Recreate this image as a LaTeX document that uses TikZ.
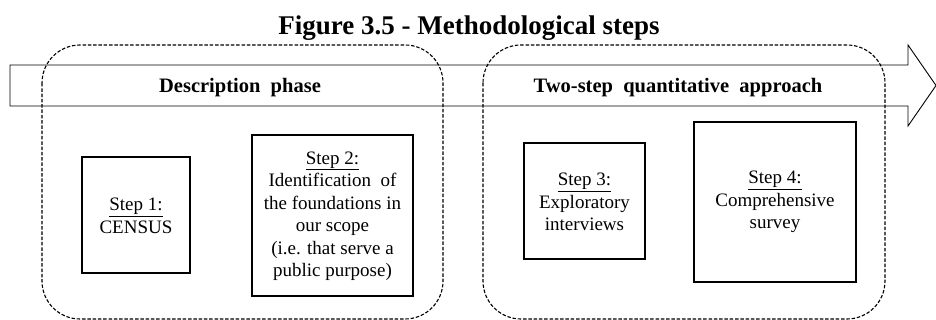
\documentclass[tikz,border=0pt]{standalone}
\usepackage{fontspec}
\setmainfont{Liberation Serif}
\begin{document}
\begin{tikzpicture}[x=1pt,y=-1pt,
  phase/.style={draw=black,line width=1.1pt,dash pattern=on 3.5pt off 1.8pt,rounded corners=38pt},
  stepbox/.style={draw=black,line width=1.8pt},
  steptext/.style={align=center,font=\fontsize{19}{22.5}\selectfont},
  phasetitle/.style={anchor=base,font=\fontsize{20.5}{24}\selectfont\bfseries},
]
\useasboundingbox (0,0) rectangle (936,320);

% title
\node[anchor=base,font=\fontsize{27}{30}\selectfont\bfseries] (title) at (469,35)
  {Figure 3.5 - Methodological steps};

% timeline arrow
\draw[line width=0.9pt,fill=white] (10,65) -- (908,65) -- (908,45) -- (936,85.5)
  -- (908,126) -- (908,106) -- (10,106) -- cycle;

% phase frames
\draw[phase] (42,45) rectangle (443,319);
\draw[phase] (483,45) rectangle (885,319);

\node[phasetitle] (ph1) at (240,93) {Description\ \ phase};
\node[phasetitle] (ph2) at (678,93) {Two-step\ \ quantitative\ \ approach};

% step boxes
\draw[stepbox] (82,157) rectangle (190,273);
\draw[stepbox] (252,135) rectangle (413,296);
\draw[stepbox] (524,143) rectangle (645,259);
\draw[stepbox] (694,122) rectangle (856,282);

\node[steptext] (s1) at (136,216) {\underline{Step 1:}\\CENSUS};
\node[steptext] (s2) at (332.5,216) {\underline{Step 2:}\\Identification\ \ of\\the foundations in\\our scope\\(i.e. that serve a\\public purpose)};
\node[steptext] (s3) at (584.5,202) {\underline{Step 3:}\\Exploratory\\interviews};
\node[steptext] (s4) at (775,202) {\underline{Step 4:}\\Comprehensive\\survey};
\end{tikzpicture}
\end{document}
